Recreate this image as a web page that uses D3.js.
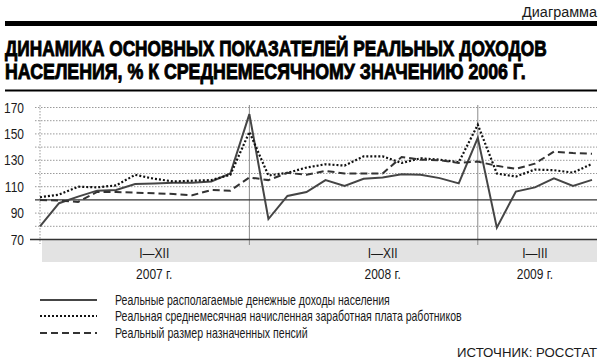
<!DOCTYPE html>
<html><head><meta charset="utf-8">
<script src="https://cdn.jsdelivr.net/npm/d3@7"></script>
<style>html,body{margin:0;padding:0;background:#fff;}svg{display:block;}</style>
</head><body>
<svg id="c" width="600" height="363"></svg>
<script>
// ---- data ----
const months = ["2007-01","2007-02","2007-03","2007-04","2007-05","2007-06","2007-07","2007-08","2007-09","2007-10","2007-11","2007-12",
  "2008-01","2008-02","2008-03","2008-04","2008-05","2008-06","2008-07","2008-08","2008-09","2008-10","2008-11","2008-12",
  "2009-01","2009-02","2009-03","2009-04","2009-05","2009-06"];
const income   = [80, 97.5, 102.5, 107, 107.5, 112, 112.5, 113, 113, 114, 120, 165,
                  85.5, 103, 106, 115, 110.5, 116, 117, 119.5, 119, 116.5, 112.5, 147,
                  79, 106.3, 109.5, 116.4, 110.6, 115.2];
const wages    = [102, 104, 110, 109.5, 111, 119, 116, 114, 114.5, 115, 119, 151.5,
                  118.5, 120.5, 124.5, 127, 126, 133, 133, 128, 131.5, 130.5, 128.5, 157,
                  120, 117.7, 123, 122.5, 120.7, 127.3];
const pensions = [100, 99.5, 98.5, 106, 106, 105.5, 105, 104.5, 103.5, 107.5, 107, 117,
                  115, 120.5, 119, 122, 120, 120, 120, 132.5, 130.5, 130, 128, 129,
                  125.8, 123.5, 127.5, 136.6, 135.5, 135];
const yTickLabels = [70, 90, 110, 130, 150, 170];
const gridValues = [80, 90, 110, 120, 130, 140, 150, 160, 170];
const yearBands = [
  {period: "I—XII", year: "2007 г.", from: "2007-01", to: "2008-01"},
  {period: "I—XII", year: "2008 г.", from: "2008-01", to: "2009-01"},
  {period: "I—III", year: "2009 г.", from: "2008-12", to: "2009-06"}
];
const separators = ["2007-12", "2008-12"];
const seriesNames = [
  "Реальные располагаемые денежные доходы населения",
  "Реальная среднемесячная начисленная заработная плата работников",
  "Реальный размер назначенных пенсий"
];
const headerText = "Диаграмма";
const titleLines = ["ДИНАМИКА ОСНОВНЫХ ПОКАЗАТЕЛЕЙ РЕАЛЬНЫХ ДОХОДОВ",
                    "НАСЕЛЕНИЯ, % К СРЕДНЕМЕСЯЧНОМУ ЗНАЧЕНИЮ 2006 Г."];
const sourceText = "ИСТОЧНИК: РОССТАТ";

// ---- chart ----
const svg = d3.select("#c");
const FONT = "'Liberation Sans', Arial, sans-serif";
const x = d3.scalePoint().domain(months).range([40, 592]);
const y = d3.scaleLinear().domain([70, 170]).range([239.5, 107.5]);

// text helper: o.w = target width (scaled horizontally to fit), o.sx = fixed horizontal scale
function txt(px, py, s, o) {
  o = o || {};
  const t = svg.append("text")
    .attr("text-anchor", o.anchor || "start")
    .attr("font-family", FONT)
    .attr("font-size", o.size || 13)
    .attr("font-weight", o.weight || "normal")
    .attr("fill", o.fill || "#1a1a1a")
    .text(s);
  if (o.stroke) t.attr("stroke", o.fill || "#000").attr("stroke-width", o.stroke);
  let sx = o.sx || 1;
  if (o.w) {
    const nat = t.node().getComputedTextLength();
    if (nat > 0) sx = o.w / nat;
  }
  t.attr("transform", `translate(${px},${py}) scale(${sx},1)`);
  return t;
}

// header
txt(597, 17, headerText, {anchor: "end", size: 14, w: 75});
svg.append("rect").attr("x", 5).attr("y", 21).attr("width", 592).attr("height", 5).attr("fill", "#000");
txt(5, 56, titleLines[0], {size: 22, weight: "bold", w: 542, fill: "#000", stroke: 0.9});
txt(5, 79, titleLines[1], {size: 22, weight: "bold", w: 521, fill: "#000", stroke: 0.9});
svg.append("rect").attr("x", 5).attr("y", 89.5).attr("width", 592).attr("height", 2).attr("fill", "#000");

// band under axis
const bandX0 = 42, bandX1 = 597;
svg.append("rect").attr("x", bandX0).attr("y", 240).attr("width", bandX1 - bandX0).attr("height", 22).attr("fill", "#e3e3e3");

// grid lines
svg.append("g").selectAll("line").data(gridValues).join("line")
  .attr("x1", 35).attr("x2", 597)
  .attr("y1", d => y(d)).attr("y2", d => y(d))
  .attr("stroke", "#9a9a9a").attr("stroke-width", 1).attr("stroke-dasharray", "1.5,1.5");

// left dotted vertical
svg.append("line").attr("x1", x(months[0])).attr("x2", x(months[0]))
  .attr("y1", 105).attr("y2", 244)
  .attr("stroke", "#999").attr("stroke-width", 1).attr("stroke-dasharray", "1.5,1.5");

// separators
svg.append("g").selectAll("line").data(separators).join("line")
  .attr("x1", d => x(d)).attr("x2", d => x(d))
  .attr("y1", 105).attr("y2", 245)
  .attr("stroke", "#8c8c8c").attr("stroke-width", 1);

// 100 line and axis line
svg.append("line").attr("x1", 35).attr("x2", 597).attr("y1", y(100)).attr("y2", y(100))
  .attr("stroke", "#333").attr("stroke-width", 1.3);
svg.append("line").attr("x1", 30).attr("x2", 597).attr("y1", y(70)).attr("y2", y(70))
  .attr("stroke", "#333").attr("stroke-width", 1.5);

// y tick labels
yTickLabels.forEach(v => txt(24, y(v) + 5, String(v), {anchor: "end", size: 15, sx: 0.8}));

// band labels
yearBands.forEach(b => {
  const cx = (x(b.from) + x(b.to)) / 2;
  txt(cx, 258, b.period, {anchor: "middle", size: 15, sx: 0.8});
  txt(cx, 279, b.year, {anchor: "middle", size: 15, sx: 0.8});
});

// series
const line = d3.line().x((d, i) => x(months[i])).y(d => y(d));
const styles = [
  {data: income,   stroke: "#454545", width: 2,   dash: null},
  {data: wages,    stroke: "#111",    width: 2.2, dash: "2,2"},
  {data: pensions, stroke: "#333",    width: 2,   dash: "7,4"}
];
styles.forEach(s => {
  const p = svg.append("path").datum(s.data).attr("d", line)
    .attr("fill", "none").attr("stroke", s.stroke).attr("stroke-width", s.width)
    .attr("stroke-linejoin", "miter");
  if (s.dash) p.attr("stroke-dasharray", s.dash);
});

// legend
const legY = [300, 316, 333];
const legW = [275, 347, 193];
styles.forEach((s, i) => {
  const l = svg.append("line").attr("x1", 40).attr("x2", 97).attr("y1", legY[i]).attr("y2", legY[i])
    .attr("stroke", s.stroke).attr("stroke-width", s.width);
  if (s.dash) l.attr("stroke-dasharray", s.dash);
  txt(115, legY[i] + 5, seriesNames[i], {size: 14, w: legW[i]});
});

// source
txt(597, 357, sourceText, {anchor: "end", size: 13.5, w: 140});
</script>
</body></html>
